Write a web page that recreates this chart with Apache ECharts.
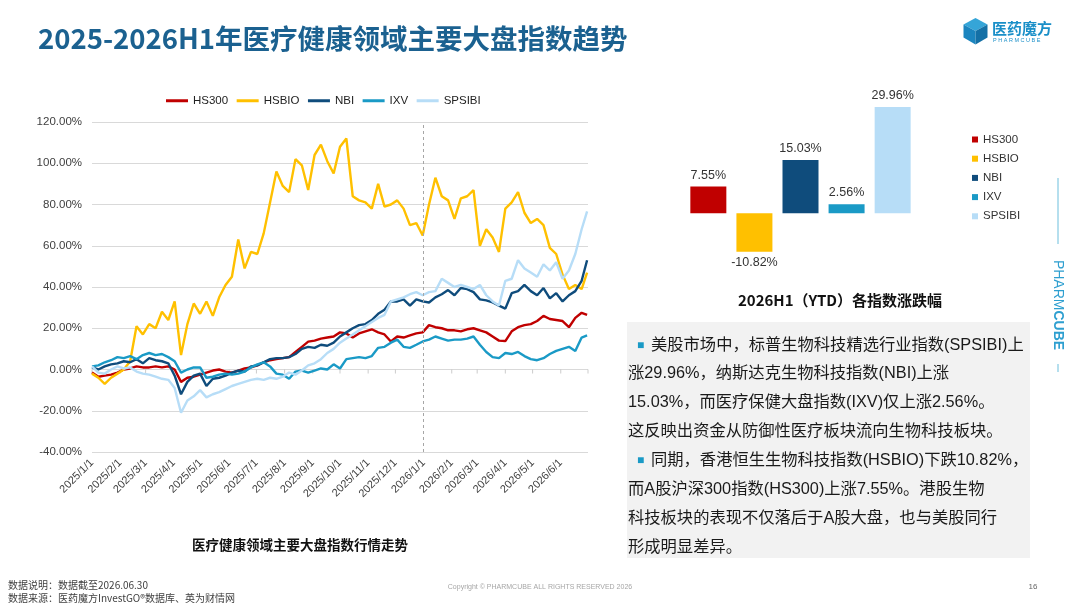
<!DOCTYPE html>
<html>
<head>
<meta charset="utf-8">
<script src="https://cdn.jsdelivr.net/npm/echarts@6/dist/echarts.min.js"></script>
<style>
html,body{margin:0;padding:0;background:#fff;}
#c{width:1080px;height:608px;}
</style>
</head>
<body>
<div id="c"></div>
<script>
// ---------- DATA ----------
const seriesNames = ['HS300', 'HSBIO', 'NBI', 'IXV', 'SPSIBI'];
const dates = [
 '2025-01-01','2025-01-08','2025-01-15','2025-01-22','2025-01-29',
 '2025-02-05','2025-02-12','2025-02-19','2025-02-26',
 '2025-03-05','2025-03-12','2025-03-19','2025-03-26',
 '2025-04-02','2025-04-09','2025-04-16','2025-04-23','2025-04-30',
 '2025-05-07','2025-05-14','2025-05-21','2025-05-28',
 '2025-06-04','2025-06-11','2025-06-18','2025-06-25',
 '2025-07-02','2025-07-09','2025-07-16','2025-07-23','2025-07-30',
 '2025-08-06','2025-08-13','2025-08-20','2025-08-27',
 '2025-09-03','2025-09-10','2025-09-17','2025-09-24',
 '2025-10-01','2025-10-08','2025-10-15','2025-10-22','2025-10-29',
 '2025-11-05','2025-11-12','2025-11-19','2025-11-26',
 '2025-12-03','2025-12-10','2025-12-17','2025-12-24','2025-12-31',
 '2026-01-07','2026-01-14','2026-01-21','2026-01-28',
 '2026-02-04','2026-02-11','2026-02-18','2026-02-25',
 '2026-03-04','2026-03-11','2026-03-18','2026-03-25',
 '2026-04-01','2026-04-08','2026-04-15','2026-04-22','2026-04-29',
 '2026-05-06','2026-05-13','2026-05-20','2026-05-27',
 '2026-06-03','2026-06-10','2026-06-17','2026-06-24','2026-06-30'
];
const hs300 = [
 -1.5,-3.5,-3,-2.5,-1.5, 0,0.5,1.5,1, 1,1.5,1,1.5, 0,-6,-4,-3.5,-2.5,
 -1.5,-0.5,0,-1, -1.5,-0.5,0.5,1, 2,3.5,4.5,5,5.5, 6,8.5,11,13.5,
 14,15,15.5,16, 18,17.5,15.5,17.5,18.5, 19.5,18,17,13.6, 16,15.5,16.5,17.5,18,
 21.5,20.5,20,19, 19,18.5,19.5,20, 19,18,16,14, 13.8,18.5,20.5,21.5,22,
 23.5,26,24.5,24, 23.5,20.5,25,27.5,26.5
];
const hsbio = [
 -2,-4,-7,-4,-2, 0,4,21,17, 22,20,28,24, 33,7,22,32,27,
 33,26,35,41, 45,63,49,57, 56,66,81,96,89, 86,102,99,87,
 104,109,101,95, 108,112,84,82,81, 78,90,79,80, 82,78,70,71,65,
 80,93,84,82, 73,83,84,87, 60,68,64,57, 78,81,86,76,71,
 73,70,59,56, 46,39,41,39,47
];
const nbi = [
 1,0,1.5,2.5,3, 4,3.5,5,3, 5.5,4.5,4,3, -3,-12,-6,-3,-2,
 -8,-4.5,-4,-3, -1.5,-0.5,-1,1.5, 2,3.5,5,5.5,5.5, 6,7.5,10,11,
 10.5,12,11.5,13, 16,18,20,21.5,22, 24,27,29,33, 33,34,31,34,33,
 32.5,35,36.5,38.5, 36,39.5,39,37.5, 34,33.5,32.5,31, 29.5,37,38,41,38,
 36,39.5,34.5,37, 33,36,38,43,53
];
const ixv = [
 1.5,2,3.5,4.5,6, 5.5,6.5,5,7, 8,7,7.5,6, 4,-1.5,0,1,1,
 -4,-3.5,-2.5,-2, -2.5,-2,-1,1, 2.5,3.5,1.5,-2,-2.5, -4.5,-1,-0.5,-1.5,
 -0.5,0.5,0,2.5, 0.5,5,5.5,6,5.5, 6.5,10.5,11,13, 14.5,11,10.5,12,13.6,
 14.5,16,15,14, 14.5,14.5,15,16, 12,8.5,6,5.5, 8,7.5,8.5,6.5,5,
 4.5,5.5,7.5,9, 10,11,9,15.5,16.5
];
const spsibi = [
 1.5,-1.5,-2,0,1.5, 0.5,1,-1,-2, -2.5,-3.5,-4.5,-5, -9,-21,-15,-13,-10,
 -13.5,-12,-11,-9.5, -8,-7,-6,-5, -4.5,-5,-4,-4.5,-3.5, -1.5,-2.5,-0.5,2,
 3,5,8,10, 13,15,17,19,21, 23,25,26.5,33, 34,35,36.5,37.5,36,
 37.5,38,44,42, 40,41,40,39, 41,36,33,31, 43,44,53,49,47,
 45,51,48,52, 44,48,56,68,76.7
];
const ytdNames = ['HS300', 'HSBIO', 'NBI', 'IXV', 'SPSIBI'];
const ytdValues = [7.55, -10.82, 15.03, 2.56, 29.96];
const yTicks = [-40, -20, 0, 20, 40, 60, 80, 100, 120];
const dividerDate = '2026-01-01';

// ---------- STYLE ----------
const colors = {HS300:'#C00000', HSBIO:'#FFC000', NBI:'#0F4C7C', IXV:'#1A9AC6', SPSIBI:'#B7DDF7'};
const LATIN = "'Liberation Sans','Noto Sans CJK SC',sans-serif";
const CJK = "'Noto Sans CJK SC','Liberation Sans',sans-serif";

// day categories for the date axis
const dayCats = [];
for (let d = new Date(Date.UTC(2025,0,1)); d <= new Date(Date.UTC(2026,6,1)); d.setUTCDate(d.getUTCDate()+1)) {
  dayCats.push(d.toISOString().slice(0,10));
}
const isMonthStart = v => v.slice(8) === '01';
const fmtDate = v => { const p = v.split('-'); return p[0] + '/' + (+p[1]) + '/' + (+p[2]); };
const monthStarts = dayCats.filter(isMonthStart);

const lineValues = {HS300:hs300, HSBIO:hsbio, NBI:nbi, IXV:ixv, SPSIBI:spsibi};

const lineSeries = seriesNames.map((n, k) => {
  const s = {
    name: n, type: 'line', xAxisIndex: 0, yAxisIndex: 0,
    data: dates.map((d, i) => [d, lineValues[n][i]]),
    showSymbol: false, symbol: 'none',
    lineStyle: {width: 2.4, color: colors[n]},
    itemStyle: {color: colors[n]},
    emphasis: {disabled: true},
    animation: false, z: 3
  };
  if (k === 0) {
    s.markLine = {
      silent: true, symbol: 'none', animation: false,
      label: {show: false},
      lineStyle: {type: [3, 3], color: '#a6a6a6', width: 1},
      data: [{xAxis: dividerDate}]
    };
  }
  return s;
});

// month tick marks sitting on the zero line
const zeroTicks = {
  name: 'ticks', type: 'scatter', xAxisIndex: 0, yAxisIndex: 0,
  data: monthStarts.map(d => [d, 0]),
  symbol: 'rect', symbolSize: [1, 4], symbolOffset: [0, 2],
  itemStyle: {color: '#BFBFBF'}, silent: true, animation: false, z: 1
};

const barSeries = ytdNames.map((n, k) => ({
  name: n, type: 'bar', xAxisIndex: 1, yAxisIndex: 1,
  data: [ytdValues[k]],
  barWidth: 36, barGap: '28%',
  itemStyle: {color: colors[n]},
  label: {
    show: true, position: ytdValues[k] < 0 ? 'bottom' : 'top', distance: 5,
    formatter: p => p.value.toFixed(2) + '%',
    fontSize: 12.5, color: '#333', fontFamily: LATIN
  },
  emphasis: {disabled: true},
  animation: false
}));

const textLines = [
  {x: 651, y: 346, t: '美股市场中，标普生物科技精选行业指数(SPSIBI)上', bullet: true},
  {x: 628, y: 374, t: '涨29.96%，纳斯达克生物科技指数(NBI)上涨'},
  {x: 628, y: 403, t: '15.03%，而医疗保健大盘指数(IXV)仅上涨2.56%。'},
  {x: 628, y: 432, t: '这反映出资金从防御性医疗板块流向生物科技板块。'},
  {x: 651, y: 461, t: '同期，香港恒生生物科技指数(HSBIO)下跌10.82%，', bullet: true},
  {x: 628, y: 490, t: '而A股沪深300指数(HS300)上涨7.55%。港股生物'},
  {x: 628, y: 519, t: '科技板块的表现不仅落后于A股大盘，也与美股同行'},
  {x: 628, y: 548, t: '形成明显差异。'}
];

const graphics = [
  {type: 'text', left: 38, top: 25, z: 10, style: {text: '2025-2026H1年医疗健康领域主要大盘指数趋势', fontSize: 27.5, fontWeight: 'bold', fontFamily: CJK, fill: '#1B6190'}},
  // logo cube
  {type: 'polygon', z: 10, shape: {points: [[975.5,18],[987.5,24.5],[975.5,31],[963.5,24.5]]}, style: {fill: '#35A5D8'}},
  {type: 'polygon', z: 10, shape: {points: [[963.5,24.5],[975.5,31],[975.5,44.5],[963.5,37.5]]}, style: {fill: '#1B85BF'}},
  {type: 'polygon', z: 10, shape: {points: [[975.5,31],[987.5,24.5],[987.5,37.5],[975.5,44.5]]}, style: {fill: '#1470A6'}},
  {type: 'text', x: 992, y: 28, z: 10, style: {text: '医药魔方', fontSize: 15, fontWeight: 'bold', fontFamily: CJK, fill: '#1A8FC8', verticalAlign: 'middle'}},
  {type: 'text', x: 993, y: 40, z: 10, style: {text: 'P H A R M C U B E', fontSize: 5.5, fontFamily: LATIN, fill: '#1A8FC8', verticalAlign: 'middle'}},
  // right vertical brand
  {type: 'line', z: 10, shape: {x1: 1058, y1: 178, x2: 1058, y2: 244}, style: {stroke: '#6CBFDD', lineWidth: 1}},
  {type: 'line', z: 10, shape: {x1: 1058, y1: 364, x2: 1058, y2: 372}, style: {stroke: '#6CBFDD', lineWidth: 1}},
  {type: 'text', x: 1058, y: 305, rotation: -Math.PI/2, z: 10, style: {
    text: '{a|PHARM}{b|CUBE}', align: 'center', verticalAlign: 'middle',
    rich: {a: {fontSize: 14, fontFamily: LATIN, fill: '#2E9FD0'}, b: {fontSize: 14, fontWeight: 'bold', fontFamily: LATIN, fill: '#2E9FD0'}}
  }},
  // text box
  {type: 'rect', z: 1, shape: {x: 627, y: 322, width: 403, height: 236}, style: {fill: '#F2F2F2'}},
  // chart captions
  {type: 'text', x: 300, y: 545, z: 10, style: {text: '医疗健康领域主要大盘指数行情走势', fontSize: 13.5, fontWeight: 'bold', fontFamily: CJK, fill: '#111', align: 'center', verticalAlign: 'middle'}},
  {type: 'text', x: 840, y: 300, z: 10, style: {text: '2026H1（YTD）各指数涨跌幅', fontSize: 15, fontWeight: 'bold', fontFamily: CJK, fill: '#111', align: 'center', verticalAlign: 'middle'}},
  // footer
  {type: 'text', x: 8, y: 585, z: 10, style: {text: '数据说明：数据截至2026.06.30', fontSize: 10, fontFamily: CJK, fill: '#404040', verticalAlign: 'middle'}},
  {type: 'text', x: 8, y: 598, z: 10, style: {text: '数据来源：医药魔方InvestGO®数据库、英为财情网', fontSize: 10, fontFamily: CJK, fill: '#404040', verticalAlign: 'middle'}},
  {type: 'text', x: 540, y: 587, z: 10, style: {text: 'Copyright © PHARMCUBE ALL RIGHTS RESERVED 2026', fontSize: 7, fontFamily: LATIN, fill: '#A6A6A6', align: 'center', verticalAlign: 'middle'}},
  {type: 'text', x: 1033, y: 587, z: 10, style: {text: '16', fontSize: 8, fontFamily: LATIN, fill: '#666', align: 'center', verticalAlign: 'middle'}}
];
textLines.forEach(l => {
  if (l.bullet) {
    graphics.push({type: 'text', x: 637, y: l.y, z: 10, style: {text: '■', fontSize: 12, fontFamily: LATIN, fill: '#1A9AC6', verticalAlign: 'middle'}});
  }
  graphics.push({type: 'text', x: l.x, y: l.y, z: 10, style: {text: l.t, fontSize: 16.3, fontFamily: LATIN, fill: '#1A1A1A', verticalAlign: 'middle'}});
});

const chart = echarts.init(document.getElementById('c'), null, {renderer: 'canvas'});
chart.setOption({
  backgroundColor: '#fff',
  animation: false,
  textStyle: {fontFamily: LATIN},
  grid: [
    {left: 92, right: 492, top: 122, bottom: 156, containLabel: false},
    {left: 680, width: 241, top: 89, height: 177.5, containLabel: false}
  ],
  legend: [
    {data: seriesNames, left: 166, top: 95, padding: 0, icon: 'rect', itemWidth: 22, itemHeight: 3, itemGap: 8.5, selectedMode: false,
     textStyle: {fontSize: 11.5, color: '#222', fontFamily: LATIN}},
    {data: ytdNames, orient: 'vertical', left: 972, top: 133, padding: 0, icon: 'rect', itemWidth: 6, itemHeight: 6, itemGap: 6.2, selectedMode: false,
     textStyle: {fontSize: 11.5, color: '#333', fontFamily: LATIN, lineHeight: 13}}
  ],
  xAxis: [
    {type: 'category', gridIndex: 0, data: dayCats, boundaryGap: false,
     axisLine: {show: false, onZero: false},
     axisTick: {show: false},
     axisLabel: {interval: (i, v) => isMonthStart(v) && v !== '2026-07-01', formatter: fmtDate, rotate: 45, margin: 9,
       fontSize: 11, color: '#404040', fontFamily: LATIN},
     splitLine: {show: false}},
    {type: 'category', gridIndex: 1, data: ['YTD'], show: false}
  ],
  yAxis: [
    {type: 'value', gridIndex: 0, min: yTicks[0], max: yTicks[yTicks.length-1], interval: 20,
     axisLabel: {formatter: v => v.toFixed(2) + '%', fontSize: 11.5, color: '#404040', margin: 10, fontFamily: LATIN},
     axisLine: {show: false}, axisTick: {show: false},
     splitLine: {lineStyle: {color: '#D9D9D9', width: 1}}},
    {type: 'value', gridIndex: 1, min: -15, max: 35, show: false, splitLine: {show: false}}
  ],
  series: [zeroTicks].concat(lineSeries, barSeries),
  graphic: graphics
});
</script>
</body>
</html>
